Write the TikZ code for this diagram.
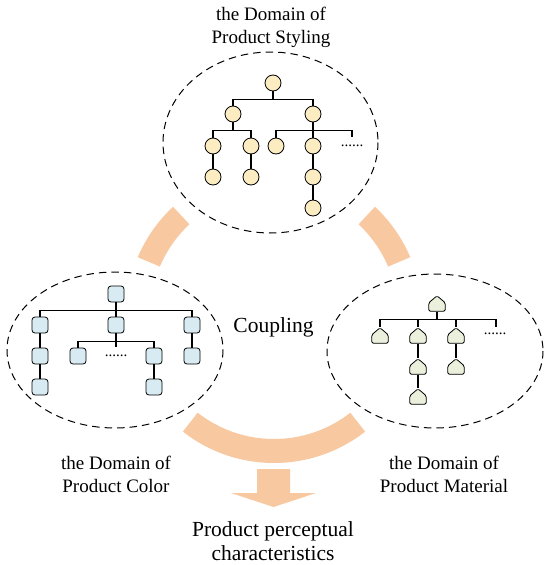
\documentclass[tikz,border=0pt]{standalone}
\usepackage{fontspec}
\setmainfont{Liberation Serif}
\usetikzlibrary{shapes.symbols}
\definecolor{bandc}{RGB}{248,200,160}
\definecolor{cfill}{RGB}{252,236,194}
\definecolor{sfill}{RGB}{216,235,242}
\definecolor{hfill}{RGB}{234,240,220}
\tikzset{>=stealth,
  cnode/.style={circle, draw, fill=cfill, minimum size=16pt, inner sep=0pt, line width=0.8pt},
  snode/.style={rectangle, rounded corners=3pt, draw, fill=sfill, minimum size=16pt, inner sep=0pt, line width=0.8pt},
  hnode/.style={signal, signal to=north, signal from=nowhere, signal pointer angle=100, rounded corners=1.5pt,
    draw, fill=hfill, minimum width=16.5pt, minimum height=8.5pt, inner sep=0pt, line width=0.8pt},
  branch/.style={line width=1.1pt},
  domainline/.style={line width=1pt, dash pattern=on 7.5pt off 5pt},
  band/.style={fill=bandc},
  lbl/.style={align=center, font=\fontsize{19pt}{23pt}\selectfont},
  dotsnode/.style={inner sep=0pt, font=\fontsize{15pt}{15pt}\selectfont}}

\begin{document}
\begin{tikzpicture}[x=1pt, y=-1pt]
    \useasboundingbox (0,0) rectangle (550,565);
    \draw[domainline] (270.5,142.5) ellipse [x radius=107.5, y radius=90.5];
    \draw[domainline] (115,350) ellipse [x radius=108, y radius=78];
    \draw[domainline] (435,351) ellipse [x radius=108, y radius=77];
    \begin{scope}[shift={(274,315)}]
        \fill[band] (203:148) arc[start angle=203, end angle=227, radius=148] -- (227:124) arc[start angle=227, end angle=203, radius=124] -- cycle;
        \fill[band] (313:148) arc[start angle=313, end angle=337, radius=148] -- (337:124) arc[start angle=337, end angle=313, radius=124] -- cycle;
        \fill[band] (52:148) arc[start angle=52, end angle=128, radius=148] -- (128:124) arc[start angle=128, end angle=52, radius=124] -- cycle;
    \end{scope}
    \fill[band] (257,469) -- (290,469) -- (290,493) -- (316,493) -- (273.5,507) -- (231,493) -- (257,493) -- cycle;

    \foreach \n/\x/\y in {c0/273/83, c1/233/114, c2/313/114, c3/213/146, c4/251/146, c5/276/146, c6/313/146, c7/313/177, c8/313/208, c9/213/177, c10/251/177}
        \node[cnode] (\n) at (\x,\y) {};
    \foreach \p/\c in {c0/c1, c0/c2, c1/c3, c1/c4, c2/c5, c2/c6, c6/c7, c7/c8, c3/c9, c4/c10}
        \draw[branch] (\p.south) -- ++(0,8) -| (\c.north);
    \coordinate (c2x) at (352,137);
    \draw[branch] (c2.south) -- ++(0,8) -| (c2x);
    \node[dotsnode] (cd) at (352,146) {......};

    \foreach \n/\x/\y in {s0/116/294, s1/40/325, s2/116/325, s3/192/325, s4/78/356, s5/154/356, s6/40/356, s7/40/387, s8/192/356, s9/154/387}
        \node[snode] (\n) at (\x,\y) {};
    \foreach \p/\c in {s0/s1, s0/s2, s0/s3, s2/s4, s2/s5, s1/s6, s6/s7, s3/s8, s5/s9}
        \draw[branch] (\p.south) -- ++(0,8) -| (\c.north);
    \coordinate (s2x) at (116,347);
    \draw[branch] (s2.south) -- (s2x);
    \node[dotsnode] (sd) at (116,356) {......};

    \foreach \n/\x/\y in {h0/437/307, h1/380/339, h2/418/339, h3/456/339, h4/418/370, h5/418/400, h6/456/370}
        \node[hnode] (\n) at (\x,\y) {};
    \foreach \p/\c in {h0/h1, h0/h2, h0/h3, h2/h4, h4/h5, h3/h6}
        \draw[branch] (\p.south) -- ++(0,8) -| (\c.north);
    \coordinate (h0x) at (496,327);
    \draw[branch] (h0.south) -- ++(0,8) -| (h0x);
    \node[dotsnode] (hd) at (495,334) {......};

    \node[lbl] (tstyle) at (271,27) {the Domain of\\Product Styling};
    \node[lbl] (tcolor) at (116,474) {the Domain of\\Product Color};
    \node[lbl] (tmat) at (444,474) {the Domain of\\Product Material};
    \node[font=\fontsize{21.5pt}{25pt}\selectfont] (coup) at (273.5,327) {Coupling};
    \node[align=center, font=\fontsize{21.5pt}{24pt}\selectfont] (tperc) at (273,541) {Product perceptual\\characteristics};
\end{tikzpicture}
\end{document}
